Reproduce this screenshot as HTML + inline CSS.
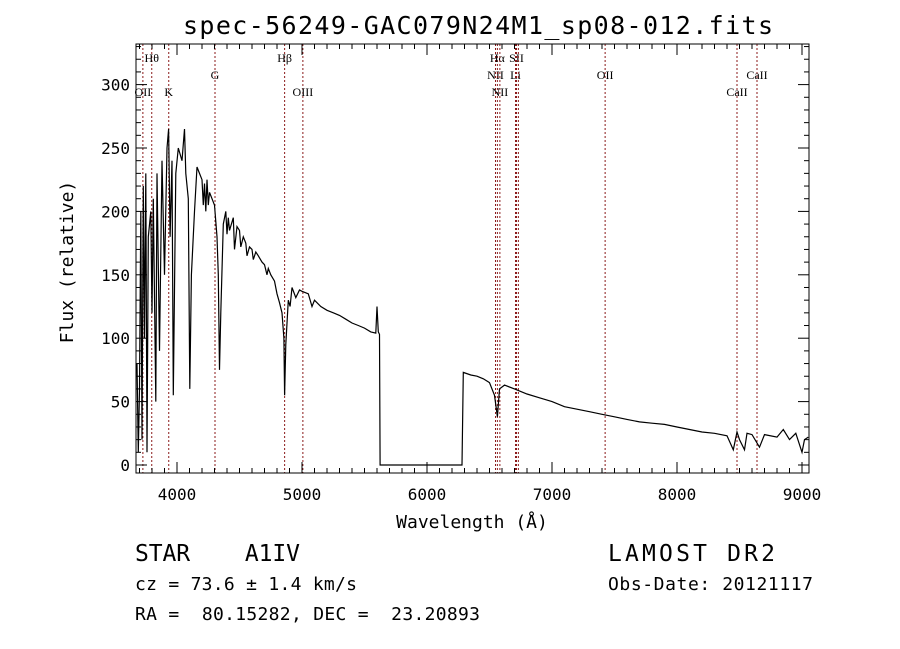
<!DOCTYPE html>
<html><head><meta charset="utf-8"><style>
html,body{margin:0;padding:0;background:#fff;width:900px;height:649px;overflow:hidden}
svg{display:block}
text{font-family:"DejaVu Sans Mono","Liberation Mono",monospace;fill:#000;white-space:pre}
.ln{font-family:"Liberation Serif",serif;font-size:12px}
</style></head><body>
<svg id="chart" width="900" height="649" viewBox="0 0 900 649" xmlns="http://www.w3.org/2000/svg" xml:space="preserve">
<text x="478" y="34" text-anchor="middle" font-size="25" textLength="590">spec-56249-GAC079N24M1_sp08-012.fits</text>
<text x="472" y="528" text-anchor="middle" font-size="18">Wavelength (Å)</text>
<text transform="translate(73,262) rotate(-90)" text-anchor="middle" font-size="18">Flux (relative)</text>
<text x="135" y="561" font-size="23" font-family="Liberation Serif,serif" textLength="165">STAR    A1IV</text>
<text x="135" y="590" font-size="18" textLength="222">cz = 73.6 ± 1.4 km/s</text>
<text x="135" y="620" font-size="18" textLength="345">RA =  80.15282, DEC =  23.20893</text>
<text x="608" y="561" font-size="23" font-family="Liberation Serif,serif" textLength="167">LAMOST DR2</text>
<text x="608" y="590" font-size="18" textLength="205">Obs-Date: 20121117</text>
<g id="plot"></g>
</svg>
<script>
const wavelengths=[3680,3690,3700,3710,3720,3730,3740,3750,3760,3770,3790,3800,3810,3830,3840,3860,3880,3900,3920,3933,3945,3960,3970,3990,4010,4040,4060,4070,4090,4102,4115,4140,4160,4180,4200,4210,4220,4230,4240,4250,4260,4280,4300,4320,4330,4340,4350,4370,4390,4400,4410,4420,4450,4460,4480,4500,4510,4530,4550,4560,4580,4600,4610,4630,4650,4680,4700,4720,4730,4750,4780,4800,4820,4840,4855,4861,4870,4890,4905,4920,4950,4980,5000,5050,5080,5100,5150,5200,5250,5300,5350,5400,5450,5500,5550,5590,5600,5610,5620,5625,6280,6290,6350,6400,6450,6500,6540,6563,6580,6620,6700,6800,6900,7000,7100,7200,7300,7400,7500,7600,7700,7800,7900,8000,8100,8200,8300,8400,8450,8480,8500,8540,8560,8600,8660,8700,8800,8850,8900,8950,9000,9020,9050];
const fluxValues=[80,10,60,200,20,220,100,230,10,180,200,120,210,50,230,90,240,150,250,265,180,240,55,230,250,240,265,230,210,60,150,200,235,230,225,205,222,200,225,205,215,210,205,180,150,75,120,190,200,182,195,185,195,170,188,185,172,180,175,165,172,170,162,168,165,160,158,150,155,150,145,135,128,120,100,55,95,130,125,140,132,138,137,135,125,130,125,122,120,118,115,112,110,108,105,104,125,105,103,0,0,73,71,70,68,65,55,38,60,63,60,56,53,50,46,44,42,40,38,36,34,33,32,30,28,26,25,23,12,26,20,12,25,24,14,24,22,28,20,25,10,20,22];
const lineWaves=[3727,3798,3934,4304,4861,5007,6548,6563,6583,6708,6716,6731,7425,8480,8640];
const lineLabels=["OII","Hθ","K","G","Hβ","OIII","NII","Hα","NII","Li","SII","","OII","CaII","CaII"];
const lineRows=[2,0,2,1,0,2,1,0,2,1,0,0,1,2,1];
const xTicks=[4000,5000,6000,7000,8000,9000];
const yTicks=[0,50,100,150,200,250,300];
const L=136,R=809,T=44,B=473;
const X=w=>136+(w-3672)*0.125;
const Y=f=>465-f*1.268;
const ns="http://www.w3.org/2000/svg";
const g=document.getElementById('plot');
function mk(t,a){const e=document.createElementNS(ns,t);for(const k in a)e.setAttribute(k,a[k]);g.appendChild(e);return e;}
lineWaves.forEach((w,i)=>{
 const l=mk('line',{x1:X(w),x2:X(w),y1:T,y2:B,stroke:'#8b1a1a','stroke-width':1,'stroke-dasharray':'2,2'});
 
 
 if(lineLabels[i]){
  const t=mk('text',{x:X(w),y:62+lineRows[i]*17,'text-anchor':'middle',class:'ln'});
  t.textContent=lineLabels[i];
  
  
 }
});
const pts=wavelengths.map((w,i)=>X(w).toFixed(1)+','+Y(fluxValues[i]).toFixed(1)).join(' ');
const sp=mk('polyline',{points:pts,fill:'none',stroke:'#000','stroke-width':1.2});


const fr=mk('rect',{x:L,y:T,width:R-L,height:B-T,fill:'none',stroke:'#000','stroke-width':1});


for(let w=3700;w<=9072;w+=100){
 const maj=w%1000===0,len=maj?11:5;
 mk('line',{x1:X(w),x2:X(w),y1:B,y2:B-len,stroke:'#000'});
 mk('line',{x1:X(w),x2:X(w),y1:T,y2:T+len,stroke:'#000'});
}
xTicks.forEach(w=>{const t=mk('text',{x:X(w),y:500,'text-anchor':'middle','font-size':16});t.textContent=w;
 
 });
for(let f=0;f<=330;f+=10){
 const maj=f%50===0,len=maj?11:5;
 mk('line',{x1:L,x2:L+len,y1:Y(f),y2:Y(f),stroke:'#000'});
 mk('line',{x1:R,x2:R-len,y1:Y(f),y2:Y(f),stroke:'#000'});
}
yTicks.forEach(f=>{const t=mk('text',{x:130,y:Y(f)+6,'text-anchor':'end','font-size':16});t.textContent=f;
 
 });
</script>
</body></html>
